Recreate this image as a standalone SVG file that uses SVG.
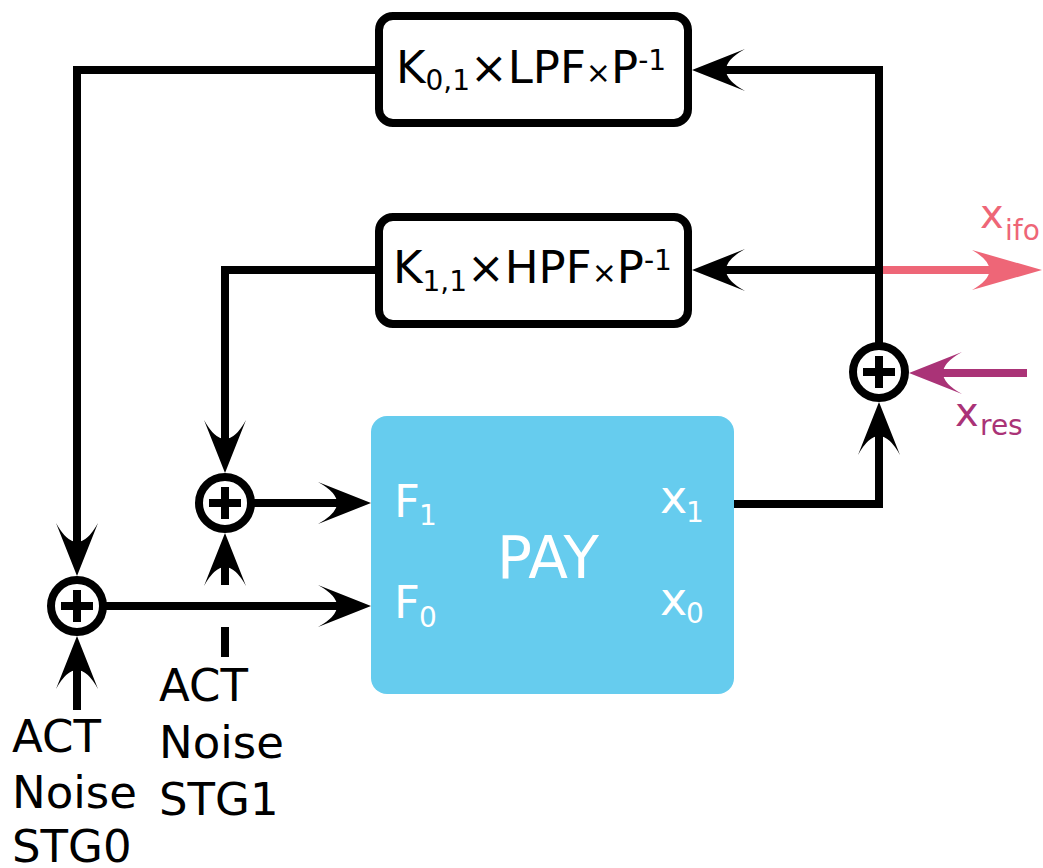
<svg xmlns="http://www.w3.org/2000/svg" xmlns:xlink="http://www.w3.org/1999/xlink" width="1043" height="868" viewBox="0 0 1043 868">
<style>
text{font-family:"DejaVu Sans","Liberation Sans",sans-serif;}
.box{fill:#fff;stroke:#000;stroke-width:8;}
.ln{fill:none;stroke:#000;stroke-width:8;}
.sum circle{fill:#fff;stroke:#000;stroke-width:8;}
.sum path{stroke:#000;stroke-width:8;fill:none;}
.lbl{font-size:45px;fill:#000;}
.wt{fill:#fff;}
</style>
<defs>
<path id="ah" d="M0,0 L-53,-21 Q-15,0 -53,21 Z"/>
<path id="ahp" d="M0,0 L-70,-20 Q-35,0 -70,20 Z"/>
</defs>
<rect x="0" y="0" width="1043" height="868" fill="#fff"/>
<g id="connectors">
<path class="ln" d="M377,70 H77 V560"/>
<use xlink:href="#ah" transform="translate(77,576) rotate(90)"/>
<path class="ln" d="M377,270 H225 V455"/>
<use xlink:href="#ah" transform="translate(225,473) rotate(90)"/>
<path class="ln" d="M251,503 H350"/>
<use xlink:href="#ah" transform="translate(371,503)"/>
<path class="ln" d="M103,606 H350"/>
<use xlink:href="#ah" transform="translate(371,606)"/>
<path class="ln" d="M77,710 V650"/>
<use xlink:href="#ah" transform="translate(77,636) rotate(-90)"/>
<path class="ln" d="M225,657 V627 M225,585 V550"/>
<use xlink:href="#ah" transform="translate(225,533) rotate(-90)"/>
<path class="ln" d="M734,504 H879 V420"/>
<use xlink:href="#ah" transform="translate(879,402) rotate(-90)"/>
<path class="ln" d="M879,346 V70 H710"/>
<use xlink:href="#ah" transform="translate(692,70) rotate(180)"/>
<path class="ln" d="M879,270 H710"/>
<use xlink:href="#ah" transform="translate(692,270) rotate(180)"/>
<path d="M883,270 H1000" stroke="#EE6677" stroke-width="8" fill="none"/>
<use xlink:href="#ahp" transform="translate(1042,270)" fill="#EE6677"/>
<path d="M1027,373 H930" stroke="#AA3377" stroke-width="8" fill="none"/>
<use xlink:href="#ah" transform="translate(909,373) rotate(180)" fill="#AA3377"/>
</g>
<g id="lpf">
<rect class="box" x="379" y="16" width="309" height="107" rx="14"/>
<text class="lbl" x="396" y="83">K<tspan dy="7" font-size="28">0,1</tspan><tspan dy="-7">×LPF</tspan><tspan font-size="30">×</tspan><tspan>P</tspan><tspan dy="-13" font-size="28">-1</tspan></text>
</g>
<g id="hpf">
<rect class="box" x="379" y="217" width="309" height="107" rx="14"/>
<text class="lbl" x="393" y="283">K<tspan dy="8" font-size="28">1,1</tspan><tspan dy="-8">×HPF</tspan><tspan font-size="30">×</tspan><tspan>P</tspan><tspan dy="-13" font-size="28">-1</tspan></text>
</g>
<g id="pay">
<rect x="371" y="416" width="363" height="278" rx="16" fill="#66CCEE"/>
<text class="wt" x="497" y="578" font-size="58">PAY</text>
<text class="wt" x="394" y="517" font-size="45">F<tspan x="419" dy="8" font-size="28">1</tspan></text>
<text class="wt" x="394" y="618" font-size="45">F<tspan x="419" dy="9" font-size="28">0</tspan></text>
<text class="wt" x="660" y="513" font-size="46">x<tspan x="686" dy="9" font-size="28">1</tspan></text>
<text class="wt" x="660" y="615" font-size="46">x<tspan x="686" dy="8" font-size="28">0</tspan></text>
</g>
<g id="sum0" class="sum" transform="translate(77,606)">
<circle r="26"/><path d="M-16,0 H16 M0,-16 V16"/>
</g>
<g id="sum1" class="sum" transform="translate(225,503)">
<circle r="26"/><path d="M-16,0 H16 M0,-16 V16"/>
</g>
<g id="sum2" class="sum" transform="translate(879,372)">
<circle r="26"/><path d="M-16,0 H16 M0,-16 V16"/>
</g>
<g id="stg0">
<text class="lbl" x="12" y="752">ACT</text>
<text class="lbl" x="12" y="808">Noise</text>
<text class="lbl" x="12" y="862">STG0</text>
</g>
<g id="stg1">
<text class="lbl" x="159" y="701">ACT</text>
<text class="lbl" x="159" y="758">Noise</text>
<text class="lbl" x="159" y="815">STG1</text>
</g>
<g id="xifo">
<text x="980" y="228" font-size="40" fill="#EE6677">x<tspan x="1005" dy="12" font-size="28">ifo</tspan></text>
</g>
<g id="xres">
<text x="955" y="426" font-size="40" fill="#AA3377">x<tspan x="980" dy="9" font-size="28">res</tspan></text>
</g>
</svg>
